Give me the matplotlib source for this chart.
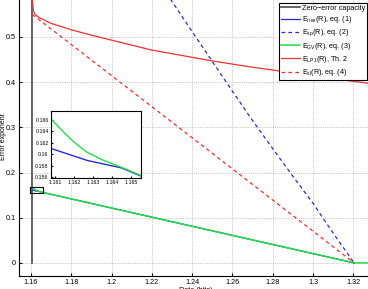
import matplotlib
matplotlib.use('Agg')
import matplotlib.pyplot as plt
from matplotlib.patches import Rectangle

plt.rcParams['font.family'] = ['Liberation Sans', 'DejaVu Sans']
plt.rcParams['mathtext.default'] = 'regular'

# zero-error capacity
r_zero = 1.1606

# E_r/ex (eq. 1)
r_rex = [1.1606, 1.1627, 1.1645, 1.1655, 1.3204]
e_rex = [0.1612, 0.1589, 0.1576, 0.1562, 0.0]

# E_sp (eq. 2)
r_sp = [1.225, 1.24, 1.25, 1.26, 1.27, 1.28, 1.29, 1.30, 1.31, 1.3204]
e_sp = [0.612, 0.512, 0.446, 0.380, 0.315, 0.253, 0.192, 0.132, 0.066, 0.0]

# E_GV (eq. 3)
r_gv = [1.1606, 1.1608, 1.1615, 1.162, 1.1627, 1.1635, 1.1645, 1.1655, 1.3204, 1.33]
e_gv = [0.1668, 0.1661, 0.1637, 0.1621, 0.1603, 0.1590, 0.1577, 0.1563, 0.0, 0.0]

# E_LP1 (Th. 2)
r_lp = [1.1606, 1.1608, 1.1612, 1.162, 1.164, 1.17, 1.18, 1.19, 1.20, 1.21, 1.22,
        1.23, 1.24, 1.25, 1.26, 1.27, 1.28, 1.29, 1.30, 1.31, 1.32, 1.33]
e_lp = [0.60, 0.575, 0.558, 0.550, 0.543, 0.530, 0.516, 0.504, 0.493, 0.482, 0.471,
        0.463, 0.455, 0.447, 0.440, 0.433, 0.427, 0.420, 0.414, 0.408, 0.402, 0.396]

# E_sl (eq. 4)
r_sl = [1.1606, 1.24, 1.3204]
e_sl = [0.550, 0.277, 0.0]

xticks = [1.16, 1.18, 1.2, 1.22, 1.24, 1.26, 1.28, 1.3, 1.32]
yticks = [0, 0.1, 0.2, 0.3, 0.4, 0.5]
inset_xticks = [1.161, 1.162, 1.163, 1.164, 1.165]
inset_yticks = [0.156, 0.158, 0.16, 0.162, 0.164, 0.166]

c_blue = '#2b2bd6'
c_green = '#22dd44'
c_red = '#ee3030'
c_zero = '0.35'

fig = plt.figure(figsize=(3.68, 2.89), dpi=100)
ax = fig.add_axes([19/368, 13/289, 354.4/368, 284.2/289])

ax.plot([r_zero, r_zero], [0, 0.6], color=c_zero, lw=1.3, label='Zero\u2212error capacity')
ax.plot(r_rex, e_rex, color=c_blue, lw=0.9, label='E$_{r/ex}$(R), eq. (1)')
ax.plot(r_sp, e_sp, color=c_blue, lw=0.9, ls=(0, (3, 2.5)), label='E$_{sp}$(R), eq. (2)')
ax.plot(r_gv, e_gv, color=c_green, lw=1.1, label='E$_{GV}$(R), eq. (3)')
ax.plot(r_lp, e_lp, color=c_red, lw=0.9, label='E$_{LP1}$(R), Th. 2')
ax.plot(r_sl, e_sl, color=c_red, lw=0.9, ls=(0, (3, 2.5)), label='E$_{sl}$(R), eq. (4)')

ax.add_patch(Rectangle((1.1596, 0.1553), 0.0063, 0.0125, fill=False,
                       edgecolor='black', lw=0.8, zorder=5))

ax.set_xlim(1.15404, 1.33)
ax.set_ylim(-0.029, 0.6)
ax.set_xticks(xticks)
ax.set_xticklabels([f'{t:g}' for t in xticks])
ax.set_yticks(yticks)
ax.set_yticklabels([f'{t:g}' for t in yticks])
ax.tick_params(direction='in', length=2, labelsize=5.2, pad=2)
ax.grid(True, color='0.6', ls=':', lw=0.5)
for s in ax.spines.values():
    s.set_linewidth(0.8)
ax.set_xlabel('Rate (bits)', fontsize=5.2, labelpad=1)
ax.set_ylabel('Error exponent', fontsize=5)
ax.yaxis.set_label_coords((7.5 - 19) / 354.4, (289 - 137 - 13) / 284.2)

leg = ax.legend(loc='upper right', bbox_to_anchor=(367/368, 1 - 3/289),
                bbox_transform=fig.transFigure, fontsize=5.2, frameon=True,
                fancybox=False, edgecolor='black', framealpha=1,
                handlelength=2.6, handletextpad=0.3, borderpad=0.25,
                labelspacing=0.32, borderaxespad=0)
leg.get_frame().set_linewidth(0.8)

# inset
axi = fig.add_axes([50.7/368, (289-178.3)/289, 90/368, 67.3/289])
axi.plot(r_rex, e_rex, color=c_blue, lw=1.0)
axi.plot(r_gv, e_gv, color=c_green, lw=1.0)
axi.set_xlim(1.16078, 1.1655)
axi.set_ylim(0.1558, 0.1675)
axi.set_xticks(inset_xticks)
axi.set_xticklabels([f'{t:g}' for t in inset_xticks])
axi.set_yticks(inset_yticks)
axi.set_yticklabels([f'{t:g}' for t in inset_yticks])
axi.tick_params(direction='in', length=1.5, labelsize=3.8, pad=1.5)
for s in axi.spines.values():
    s.set_linewidth(0.8)

fig.savefig('out.png', dpi=100, facecolor='white')
